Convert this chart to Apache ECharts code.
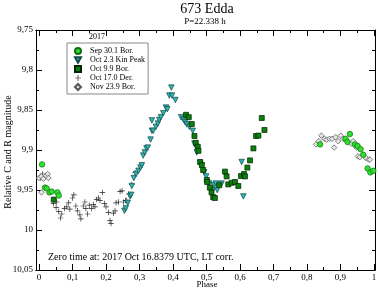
<!DOCTYPE html>
<html><head><meta charset="utf-8">
<script src="https://cdn.jsdelivr.net/npm/echarts@6/dist/echarts.min.js"></script>
<style>html,body{margin:0;padding:0;background:#fff}#c{width:378px;height:291px}</style>
</head><body><div id="c"></div>
<script>
const seriesNames = ['Sep 30.1 Bor.', 'Oct 2.3 Kin Peak', 'Oct 9.9 Bor.', 'Oct 17.0 Der.', 'Nov 23.9 Bor.'];
const xTicks = [0,0.1,0.2,0.3,0.4,0.5,0.6,0.7,0.8,0.9,1];
const xMinorTicks = [0.05,0.15,0.25,0.35,0.45,0.55,0.65,0.75,0.85,0.95];
const sepPhase = [0.009,0.018,0.023,0.031,0.038,0.055,0.059,0.839,0.915,0.921,0.928,0.943,0.951,0.960,0.968,0.981,0.989,0.998];
const sepMag   = [9.918,9.947,9.948,9.953,9.952,9.953,9.957,9.893,9.886,9.890,9.880,9.893,9.895,9.899,9.906,9.923,9.928,9.926];
const kinPhase = [0.255,0.259,0.265,0.272,0.275,0.277,0.283,0.290,0.297,0.303,0.307,0.311,0.316,0.321,0.325,0.333,0.337,0.341,0.337,0.349,0.355,0.359,0.364,0.371,0.379,0.383,0.389,0.395,0.397,0.407,0.424,0.431,0.436,0.441,0.449,0.459,0.464,0.469,0.471,0.481,0.486,0.493,0.499,0.508,0.512,0.518,0.522,0.528,0.532,0.545,0.605,0.610];
const kinMag   = [9.976,9.973,9.966,9.958,9.956,9.945,9.935,9.930,9.926,9.922,9.919,9.907,9.903,9.898,9.897,9.887,9.876,9.876,9.863,9.871,9.867,9.8625,9.859,9.854,9.847,9.849,9.832,9.822,9.832,9.8375,9.859,9.862,9.865,9.868,9.871,9.876,9.892,9.896,9.903,9.916,9.919,9.928,9.933,9.942,9.949,9.951,9.944,9.942,9.950,9.942,9.915,9.958];
const oct9Phase = [0.044,0.439,0.447,0.456,0.464,0.468,0.474,0.476,0.481,0.486,0.490,0.501,0.502,0.510,0.515,0.520,0.525,0.538,0.555,0.560,0.565,0.575,0.585,0.595,0.603,0.612,0.615,0.622,0.630,0.640,0.648,0.655,0.665,0.673];
const oct9Mag   = [9.962,9.856,9.859,9.8675,9.8825,9.891,9.896,9.901,9.915,9.919,9.925,9.9375,9.940,9.947,9.953,9.959,9.960,9.944,9.927,9.933,9.943,9.941,9.940,9.945,9.9325,9.930,9.933,9.922,9.913,9.898,9.8825,9.882,9.860,9.875];
const derPhase = [0.004,0.010,0.043,0.051,0.053,0.059,0.064,0.068,0.076,0.083,0.088,0.092,0.100,0.104,0.110,0.115,0.122,0.125,0.132,0.137,0.140,0.145,0.150,0.157,0.162,0.167,0.172,0.177,0.182,0.189,0.195,0.200,0.207,0.212,0.215,0.222,0.227,0.230,0.237,0.242,0.248,0.252,0.258,0.262,0.268,0.277,0.287];
const derMag   = [9.935,9.930,9.967,9.972,9.965,9.977,9.985,9.980,9.973,9.971,9.966,9.974,9.960,9.956,9.970,9.976,9.981,9.986,9.970,9.965,9.973,9.980,9.969,9.973,9.968,9.971,9.962,9.960,9.963,9.953,9.967,9.971,9.978,9.988,9.992,9.979,9.976,9.966,9.965,9.952,9.951,9.965,9.963,9.963,9.955,9.943,9.928];
const novPhase = [0.000,0.007,0.007,0.013,0.021,0.026,0.028,0.827,0.835,0.843,0.852,0.859,0.867,0.875,0.881,0.885,0.893,0.901,0.908,0.932,0.938,0.948,0.952,0.958,0.976,0.984,0.988];
const novMag   = [9.935,9.953,9.933,9.936,9.932,9.930,9.935,9.893,9.889,9.882,9.886,9.887,9.886,9.886,9.897,9.884,9.889,9.882,9.886,9.892,9.889,9.897,9.908,9.909,9.910,9.912,9.912];

const zip = (a,b) => a.map((v,i)=>[v,b[i]]);
const FONT = 'Liberation Serif';
const fmtNum = v => String(+(+v).toFixed(2)).replace('.', ',');
const crossPath = 'path://M-0.12,-1H0.12V-0.12H1V0.12H0.12V1H-0.12V0.12H-1V-0.12H-0.12Z';
const triDown = 'path://M-1,-0.9L1,-0.9L0,0.9Z';

const XMIN = -0.009, XMAX = 1.003;
const baseX = (pos, extra) => Object.assign({
  type:'value', min:XMIN, max:XMAX, position:pos, offset:0,
  axisLine:{show:true, onZero:false, lineStyle:{color:'#000', width:1}},
  splitLine:{show:false}, axisLabel:{show:false}, axisTick:{show:false}
}, extra);
const baseY = (pos, extra) => Object.assign({
  type:'value', min:9.75, max:10.05, interval:0.05, inverse:true, position:pos,
  axisLine:{show:true, onZero:false, lineStyle:{color:'#000', width:1}},
  splitLine:{show:false},
  axisTick:{show:true, inside:true, length:6, lineStyle:{color:'#000'}},
  minorTick:{show:true, splitNumber:2, length:3, lineStyle:{color:'#000'}},
  axisLabel:{show:false}
}, extra);

const chart = echarts.init(document.getElementById('c'), null, {renderer:'canvas'});
chart.setOption({
  animation:false,
  backgroundColor:'#fff',
  textStyle:{fontFamily:FONT},
  grid:{left:36, right:3, top:30, bottom:21, containLabel:false, outerBoundsMode:'none'},
  graphic:[
    {type:'text', x:207, y:2, style:{text:'673 Edda', font:'14px "Liberation Serif"', fill:'#000', textAlign:'center'}},
    {type:'text', x:205, y:17, style:{text:'P=22.338 h', font:'9px "Liberation Serif"', fill:'#000', textAlign:'center'}},
    {type:'text', x:97, y:33, style:{text:'2017', font:'8px "Liberation Serif"', fill:'#000', textAlign:'center'}},
    {type:'text', x:48, y:252, style:{text:'Zero time at: 2017 Oct 16.8379 UTC, LT corr.', font:'10px "Liberation Serif"', fill:'#000'}},
    {type:'text', x:207, y:285, style:{text:'Phase', font:'9px "Liberation Serif"', fill:'#000', textAlign:'center', textVerticalAlign:'middle'}},
    {type:'text', x:8, y:152, rotation:Math.PI/2, style:{text:'Relative C and R magnitude', font:'10px "Liberation Serif"', fill:'#000', textAlign:'center', textVerticalAlign:'middle'}}
  ],
  legend:{
    orient:'vertical', left:67, top:43, data:seriesNames,
    itemWidth:6, itemHeight:6, itemGap:1,
    padding:[4,3,3,7], borderColor:'#888', borderWidth:1, backgroundColor:'#fff',
    textStyle:{fontFamily:FONT, fontSize:8, color:'#000', lineHeight:8, padding:[0,0,0,4]},
    selectedMode:false
  },
  xAxis:[
    baseX('bottom', {
      axisTick:{show:true, inside:true, length:6, customValues:xTicks, lineStyle:{color:'#000'}},
      axisLabel:{show:true, customValues:xTicks, margin:3, fontFamily:FONT, fontSize:9, color:'#000', formatter:fmtNum}
    }),
    baseX('bottom', {axisTick:{show:true, inside:true, length:3, customValues:xMinorTicks, lineStyle:{color:'#000'}}}),
    baseX('top', {axisTick:{show:true, inside:true, length:6, customValues:xTicks, lineStyle:{color:'#000'}}}),
    baseX('top', {axisTick:{show:true, inside:true, length:3, customValues:xMinorTicks, lineStyle:{color:'#000'}}})
  ],
  yAxis:[
    baseY('left', {
      axisLabel:{show:true, margin:3, fontFamily:FONT, fontSize:9, color:'#000', formatter:fmtNum}
    }),
    baseY('right', {})
  ],
  series:[
    {name:seriesNames[0], type:'scatter', data:zip(sepPhase,sepMag), symbol:'circle', symbolSize:5.5, z:5,
     itemStyle:{color:'#2ee02e', borderColor:'#136b13', borderWidth:0.7, opacity:1}},
    {name:seriesNames[1], type:'scatter', data:zip(kinPhase,kinMag), symbol:triDown, symbolSize:5.5, z:3,
     itemStyle:{color:'#2fb3b0', borderColor:'#134848', borderWidth:0.7, opacity:1}},
    {name:seriesNames[2], type:'scatter', data:zip(oct9Phase,oct9Mag), symbol:'rect', symbolSize:5, z:4,
     itemStyle:{color:'#0b7e0b', borderColor:'#022402', borderWidth:0.7, opacity:1}},
    {name:seriesNames[3], type:'scatter', data:zip(derPhase,derMag), symbol:crossPath, symbolSize:5.5, z:2,
     itemStyle:{color:'#222', borderWidth:0, opacity:1}},
    {name:seriesNames[4], type:'scatter', data:zip(novPhase,novMag), symbol:'diamond', symbolSize:5.5, z:2,
     itemStyle:{color:'#e6e6e6', borderColor:'#555', borderWidth:0.7, opacity:1}}
  ]
});
</script></body></html>
